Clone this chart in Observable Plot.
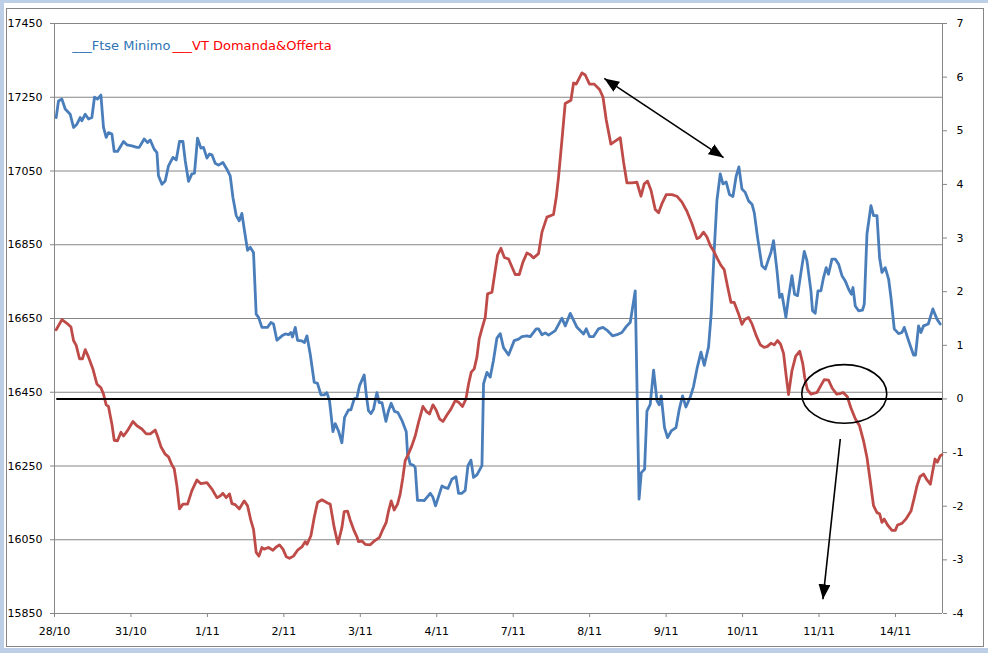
<!DOCTYPE html>
<html>
<head>
<meta charset="utf-8">
<script src="https://cdn.jsdelivr.net/npm/d3@7"></script>
<script src="https://cdn.jsdelivr.net/npm/@observablehq/plot@0.6"></script>
<style>
  body { margin: 0; }
  #wrap { position: relative; width: 988px; height: 653px; background: #bccfe6; overflow: hidden; }
  #paper { position: absolute; left: 4px; top: 3px; width: 984px; height: 645px; background: #ffffff; }
  #border { position: absolute; left: 6px; top: 8px; width: 976px; height: 637px; border: 1px solid #868686; }
  #chart { position: absolute; left: 0; top: 0; }
</style>
</head>
<body>
<div id="wrap"><div id="paper"></div><div id="border"></div><div id="chart"></div></div>
<script>
// ---- x axis: trading days (index) and their labels
const dayTicks = [0, 1, 2, 3, 4, 5, 6, 7, 8, 9, 10, 11];
const dayLabels = ["28/10", "31/10", "1/11", "2/11", "3/11", "4/11", "7/11", "8/11", "9/11", "10/11", "11/11", "14/11"];
const xEnd = 11.615;

// ---- left axis (Ftse Minimo) ticks, right axis (VT Domanda&Offerta) ticks
const leftTicks = [15850, 16050, 16250, 16450, 16650, 16850, 17050, 17250, 17450];
const rightTicks = [-4, -3, -2, -1, 0, 1, 2, 3, 4, 5, 6, 7];

// ---- series names
const seriesNames = ["___Ftse Minimo", "___VT Domanda&Offerta"];

// ---- Ftse Minimo (time in trading days, value on left axis)
const blueT = [0.022,0.052,0.097,0.140,0.205,0.249,0.293,0.336,0.358,0.402,
0.445,0.489,0.523,0.562,0.607,0.641,0.676,0.706,0.751,0.781,
0.824,0.903,0.947,1.012,1.078,1.108,1.173,1.217,1.252,1.304,
1.340,1.360,1.405,1.448,1.491,1.549,1.592,1.635,1.680,1.710,
1.753,1.797,1.831,1.871,1.915,1.949,1.994,2.028,2.059,2.102,
2.145,2.203,2.255,2.298,2.334,2.377,2.416,2.451,2.485,2.525,
2.560,2.603,2.638,2.669,2.713,2.786,2.831,2.865,2.909,2.975,
3.018,3.061,3.092,3.113,3.149,3.179,3.236,3.270,3.302,3.345,
3.397,3.440,3.485,3.528,3.563,3.597,3.642,3.672,3.715,3.759,
3.794,3.846,3.877,3.920,3.956,3.990,4.051,4.077,4.107,4.139,
4.173,4.217,4.247,4.283,4.335,4.369,4.404,4.448,4.492,4.544,
4.601,4.618,4.653,4.696,4.718,4.748,4.806,4.836,4.915,4.950,
4.984,5.068,5.102,5.146,5.198,5.251,5.285,5.329,5.372,5.408,
5.447,5.481,5.525,5.591,5.612,5.656,5.699,5.742,5.787,5.830,
5.873,5.939,6.013,6.070,6.114,6.180,6.223,6.301,6.331,6.376,
6.419,6.462,6.550,6.637,6.681,6.746,6.834,6.920,6.955,6.998,
7.051,7.116,7.174,7.234,7.299,7.357,7.422,7.478,7.531,7.596,
7.646,7.675,7.718,7.749,7.792,7.836,7.880,7.910,7.936,7.979,
8.019,8.067,8.129,8.172,8.215,8.259,8.316,8.359,8.404,8.456,
8.499,8.555,8.590,8.629,8.665,8.708,8.743,8.786,8.829,8.874,
8.917,8.952,8.992,9.035,9.078,9.123,9.153,9.196,9.253,9.297,
9.340,9.371,9.405,9.450,9.484,9.515,9.567,9.601,9.646,9.680,
9.719,9.764,9.807,9.842,9.894,9.915,9.950,9.986,10.025,10.059,
10.094,10.124,10.169,10.212,10.255,10.300,10.343,10.386,10.422,10.444,
10.474,10.517,10.569,10.592,10.627,10.679,10.713,10.758,10.792,10.823,
10.866,10.910,10.941,10.984,11.040,11.085,11.115,11.171,11.236,11.262,
11.302,11.333,11.367,11.429,11.489,11.541,11.585];
const blueV = [17195,17240,17245,17218,17204,17168,17177,17195,17186,17204,
17191,17195,17250,17245,17256,17168,17141,17154,17150,17103,
17103,17130,17121,17118,17114,17114,17137,17127,17134,17109,
17100,17037,17014,17023,17064,17087,17080,17130,17130,17078,
17022,17042,17044,17139,17112,17114,17085,17096,17094,17071,
17066,17073,17055,17037,16978,16929,16915,16935,16888,16835,
16843,16829,16662,16653,16626,16626,16639,16635,16591,16603,
16608,16606,16612,16600,16626,16591,16589,16585,16603,16553,
16477,16474,16443,16443,16449,16427,16343,16365,16345,16313,
16382,16402,16402,16432,16435,16468,16497,16445,16400,16392,
16404,16449,16422,16422,16371,16400,16420,16398,16395,16374,
16343,16282,16255,16252,16246,16157,16157,16156,16176,16165,
16142,16196,16192,16189,16214,16221,16176,16176,16184,16251,
16266,16219,16226,16251,16473,16504,16491,16537,16597,16609,
16571,16551,16590,16594,16601,16603,16601,16622,16622,16606,
16611,16605,16617,16651,16630,16664,16626,16608,16622,16601,
16601,16622,16626,16617,16603,16606,16612,16628,16640,16725,
16160,16232,16241,16399,16417,16510,16427,16416,16440,16354,
16327,16345,16354,16404,16440,16410,16437,16466,16514,16559,
16523,16573,16664,16835,16971,17042,17015,17020,16986,16981,
17037,17061,17001,16992,16969,16960,16937,16870,16793,16784,
16811,16829,16861,16780,16707,16716,16653,16707,16766,16716,
16712,16775,16832,16807,16725,16671,16664,16725,16725,16761,
16788,16770,16811,16811,16798,16766,16752,16730,16716,16734,
16684,16671,16673,16689,16879,16956,16929,16929,16815,16775,
16788,16757,16707,16622,16609,16612,16626,16590,16551,16551,
16630,16612,16630,16635,16676,16649,16635];

// ---- VT Domanda&Offerta (time in trading days, value on right axis)
const redT = [0.022,0.097,0.162,0.215,0.249,0.284,0.327,0.366,0.402,0.445,
0.502,0.554,0.607,0.641,0.676,0.706,0.751,0.781,0.824,0.869,
0.903,0.955,1.026,1.078,1.143,1.200,1.252,1.317,1.347,1.392,
1.448,1.491,1.536,1.566,1.601,1.635,1.680,1.740,1.797,1.863,
1.915,1.994,2.059,2.124,2.167,2.203,2.246,2.289,2.321,2.364,
2.416,2.481,2.525,2.569,2.603,2.638,2.674,2.713,2.743,2.799,
2.857,2.900,2.943,2.988,3.031,3.074,3.126,3.179,3.236,3.279,
3.302,3.354,3.397,3.440,3.498,3.571,3.606,3.659,3.707,3.759,
3.789,3.833,3.868,3.920,3.956,3.976,4.021,4.064,4.130,4.173,
4.251,4.283,4.339,4.369,4.404,4.443,4.487,4.522,4.557,4.587,
4.631,4.675,4.718,4.761,4.819,4.862,4.905,4.950,4.993,5.036,
5.081,5.133,5.185,5.241,5.285,5.337,5.382,5.416,5.451,5.490,
5.525,5.555,5.591,5.634,5.664,5.722,5.765,5.795,5.839,5.883,
5.939,6.026,6.079,6.127,6.179,6.223,6.266,6.331,6.376,6.441,
6.527,6.563,6.593,6.637,6.680,6.755,6.789,6.824,6.899,6.942,
6.998,7.060,7.129,7.174,7.217,7.278,7.348,7.400,7.443,7.487,
7.553,7.618,7.671,7.714,7.757,7.802,7.858,7.901,7.945,8.002,
8.076,8.141,8.207,8.272,8.337,8.403,8.437,8.489,8.534,8.577,
8.629,8.672,8.717,8.760,8.803,8.848,8.891,8.947,8.992,9.029,
9.078,9.123,9.179,9.231,9.283,9.326,9.371,9.414,9.457,9.497,
9.536,9.571,9.601,9.646,9.695,9.748,9.787,9.813,9.846,9.894,
9.973,10.020,10.068,10.124,10.173,10.231,10.272,10.315,10.371,10.415,
10.474,10.530,10.582,10.627,10.670,10.713,10.758,10.792,10.823,10.853,
10.896,10.954,10.997,11.027,11.085,11.141,11.203,11.246,11.281,11.320,
11.367,11.412,11.456,11.489,11.517,11.548,11.585,11.607];
const redV = [1.29,1.48,1.41,1.34,1.09,1.00,0.75,0.75,0.92,0.78,
0.56,0.28,0.21,0.09,-0.11,-0.14,-0.47,-0.77,-0.78,-0.62,
-0.69,-0.59,-0.42,-0.50,-0.56,-0.65,-0.65,-0.58,-0.69,-0.89,
-1.03,-1.08,-1.23,-1.30,-1.62,-2.05,-1.96,-1.96,-1.71,-1.51,
-1.58,-1.56,-1.68,-1.84,-1.81,-1.76,-1.84,-1.77,-1.95,-1.97,
-2.05,-1.90,-1.99,-2.27,-2.43,-2.86,-2.93,-2.77,-2.80,-2.77,
-2.82,-2.76,-2.72,-2.80,-2.94,-2.97,-2.93,-2.82,-2.76,-2.66,
-2.71,-2.55,-2.21,-1.93,-1.88,-1.94,-1.96,-2.40,-2.70,-2.40,
-2.10,-2.09,-2.26,-2.46,-2.57,-2.66,-2.65,-2.71,-2.72,-2.66,
-2.58,-2.47,-2.30,-2.09,-1.90,-2.07,-1.96,-1.77,-1.46,-1.15,
-1.02,-0.87,-0.69,-0.44,-0.14,-0.23,-0.28,-0.11,-0.21,-0.37,
-0.42,-0.30,-0.19,-0.03,-0.06,-0.14,0.00,0.28,0.50,0.56,
0.78,1.12,1.31,1.52,1.96,1.99,2.40,2.68,2.81,2.64,
2.61,2.32,2.32,2.55,2.72,2.69,2.63,2.71,3.11,3.39,
3.44,3.76,4.14,4.82,5.51,5.57,5.89,5.87,6.08,6.04,
5.87,5.87,5.77,5.63,5.20,4.75,4.82,4.87,4.42,4.03,
4.03,4.04,3.78,4.01,4.06,3.89,3.53,3.47,3.64,3.81,
3.81,3.78,3.67,3.50,3.27,2.99,3.01,3.11,3.02,2.86,
2.74,2.61,2.49,2.41,2.10,1.80,1.80,1.59,1.39,1.48,
1.52,1.40,1.18,1.01,0.96,0.98,1.04,1.01,1.09,1.02,
0.85,0.42,0.08,0.53,0.80,0.89,0.66,0.40,0.18,0.09,
0.12,0.24,0.36,0.35,0.20,0.09,0.10,0.12,0.04,-0.16,
-0.37,-0.50,-0.78,-1.09,-1.53,-1.99,-2.12,-2.14,-2.30,-2.24,
-2.35,-2.45,-2.45,-2.35,-2.32,-2.23,-2.09,-1.84,-1.62,-1.45,
-1.40,-1.51,-1.59,-1.33,-1.12,-1.18,-1.06,-1.04];

// ---- annotations (time in days, value on right axis)
const doubleArrowT = [7.191, 8.751];
const doubleArrowV = [5.976, 4.50];
const downArrowT = [10.278, 10.051];
const downArrowV = [-0.747, -3.735];
const ellipseT = [10.330];
const ellipseV = [0.093];

// right-axis units -> left-axis units
const L0 = leftTicks[0], L1 = leftTicks[leftTicks.length - 1];
const R0 = rightTicks[0], R1 = rightTicks[rightTicks.length - 1];
const toLeft = r => L0 + (r - R0) * (L1 - L0) / (R1 - R0);
const fromLeft = l => R0 + (l - L0) * (R1 - R0) / (L1 - L0);

const blue = blueT.map((t, i) => ({t, v: blueV[i]}));
const red = redT.map((t, i) => ({t, v: toLeft(redV[i])}));
const labelOf = new Map(dayTicks.map((d, i) => [d, dayLabels[i]]));

const dbl = [{x1: doubleArrowT[0], y1: toLeft(doubleArrowV[0]), x2: doubleArrowT[1], y2: toLeft(doubleArrowV[1])}];
const down = [{x1: downArrowT[0], y1: toLeft(downArrowV[0]), x2: downArrowT[1], y2: toLeft(downArrowV[1])}];
const ell = ellipseT.map((t, i) => ({t, v: toLeft(ellipseV[i])}));

function headMarker(color) {
  const m = d3.create("svg:marker")
    .attr("viewBox", "-15 -6 15 12")
    .attr("markerWidth", 15).attr("markerHeight", 12)
    .attr("markerUnits", "userSpaceOnUse")
    .attr("orient", "auto-start-reverse")
    .attr("fill", color).attr("stroke", "none");
  m.append("path").attr("d", "M0,0L-15,-6L-15,6Z");
  const el = m.node();
  el.node = () => el;
  return el;
}

const ELL_RATIO = 0.69;
const ellipseSymbol = {
  draw(ctx, size) {
    const r = Math.sqrt(size / Math.PI), rx = r, ry = r * ELL_RATIO, k = 0.5523;
    ctx.moveTo(rx, 0);
    ctx.bezierCurveTo(rx, ry * k, rx * k, ry, 0, ry);
    ctx.bezierCurveTo(-rx * k, ry, -rx, ry * k, -rx, 0);
    ctx.bezierCurveTo(-rx, -ry * k, -rx * k, -ry, 0, -ry);
    ctx.bezierCurveTo(rx * k, -ry, rx, -ry * k, rx, 0);
    ctx.closePath();
  }
};

const gray = "#868686";
const chart = Plot.plot({
  width: 988,
  height: 653,
  marginLeft: 54,
  marginRight: 46,
  marginTop: 23,
  marginBottom: 40,
  style: {fontFamily: "DejaVu Sans", fontSize: "11px", background: "transparent", color: "black", overflow: "visible"},
  x: {domain: [0, xEnd]},
  y: {domain: [L0, L1]},
  marks: [
    Plot.gridY(leftTicks, {stroke: gray, strokeOpacity: 1}),
    Plot.ruleX([0, xEnd], {stroke: gray}),
    Plot.ruleY([L0], {stroke: gray}),
    Plot.axisY(leftTicks, {anchor: "left", tickSize: 4, tickPadding: 8, stroke: gray, fill: "black", tickFormat: d => String(d), label: null}),
    Plot.axisY(rightTicks.map(toLeft), {anchor: "right", tickSize: 4, tickPadding: 17, textAnchor: "end", stroke: gray, fill: "black", tickFormat: d => String(Math.round(fromLeft(d))), label: null}),
    Plot.axisX(dayTicks, {anchor: "bottom", tickSize: 4, tickPadding: 10, stroke: gray, fill: "black", tickFormat: d => labelOf.get(d), label: null}),
    Plot.line(blue, {x: "t", y: "v", stroke: "#4a7ebb", strokeWidth: 2.8, strokeLinejoin: "round", strokeLinecap: "round"}),
    Plot.line(red, {x: "t", y: "v", stroke: "#be4b48", strokeWidth: 2.8, strokeLinejoin: "round", strokeLinecap: "round"}),
    Plot.ruleY([toLeft(0)], {x1: 0.03, x2: xEnd, stroke: "black", strokeWidth: 2}),
    Plot.link(dbl, {x1: "x1", y1: "y1", x2: "x2", y2: "y2", stroke: "black", strokeWidth: 1.6, markerStart: headMarker, markerEnd: headMarker}),
    Plot.link(down, {x1: "x1", y1: "y1", x2: "x2", y2: "y2", stroke: "black", strokeWidth: 1.6, markerEnd: headMarker}),
    Plot.dot(ell, {x: "t", y: "v", r: 42.5, symbol: ellipseSymbol, stroke: "black", strokeWidth: 1.6, fill: "none"}),
    Plot.text([seriesNames[0]], {frameAnchor: "top-left", dx: 17.7, dy: 16.8, textAnchor: "start", fill: "#2e74b5", fontSize: 13}),
    Plot.text([seriesNames[1]], {frameAnchor: "top-left", dx: 118, dy: 16.8, textAnchor: "start", fill: "#ff0000", fontSize: 13})
  ]
});
document.getElementById("chart").appendChild(chart);
</script>
</body>
</html>
